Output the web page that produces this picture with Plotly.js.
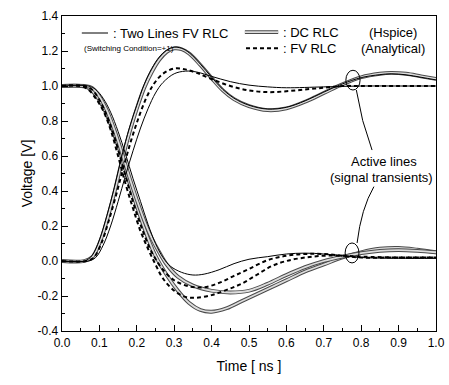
<!DOCTYPE html>
<html><head><meta charset="utf-8">
<script src="https://cdn.plot.ly/plotly-3.0.1.min.js"></script>
<style>html,body{margin:0;padding:0;background:#fff}#chart{width:449px;height:385px}</style>
</head><body><div id="chart"></div>
<script>
// ---- Data (time in ns, voltage in V) ----
// Rising (0 -> 1) transients
var riseGrayT = [0, 0.06, 0.08, 0.10, 0.12, 0.14, 0.16, 0.18, 0.20, 0.22, 0.24, 0.26, 0.28, 0.30, 0.32, 0.34, 0.37, 0.40, 0.43, 0.46, 0.50, 0.55, 0.60, 0.65, 0.70, 0.75, 0.80, 0.85, 0.88, 0.92, 0.96, 1.0];
var riseGrayV = [0, 0, 0.02, 0.10, 0.23, 0.39, 0.57, 0.73, 0.87, 0.99, 1.08, 1.15, 1.195, 1.215, 1.21, 1.185, 1.12, 1.045, 0.975, 0.925, 0.885, 0.862, 0.872, 0.91, 0.96, 1.01, 1.05, 1.07, 1.075, 1.07, 1.055, 1.04];
var riseThinTallV = [0, 0, 0.03, 0.12, 0.26, 0.42, 0.60, 0.76, 0.89, 1.01, 1.10, 1.165, 1.205, 1.222, 1.215, 1.19, 1.125, 1.05, 0.98, 0.93, 0.89, 0.868, 0.878, 0.915, 0.965, 1.012, 1.048, 1.065, 1.07, 1.064, 1.05, 1.035];
var riseDashT = [0, 0.065, 0.085, 0.105, 0.125, 0.145, 0.165, 0.185, 0.205, 0.225, 0.245, 0.27, 0.30, 0.33, 0.36, 0.40, 0.45, 0.50, 0.55, 0.60, 0.65, 0.70, 0.75, 0.80, 0.90, 1.0];
var riseDashV = [0, 0, 0.02, 0.10, 0.23, 0.38, 0.54, 0.69, 0.82, 0.93, 1.01, 1.07, 1.10, 1.095, 1.075, 1.04, 1.0, 0.975, 0.965, 0.97, 0.98, 0.99, 1.0, 1.0, 1.0, 1.0];
var riseThinT = [0, 0.07, 0.09, 0.11, 0.13, 0.15, 0.17, 0.19, 0.21, 0.23, 0.25, 0.27, 0.30, 0.33, 0.36, 0.40, 0.45, 0.50, 0.55, 0.60, 0.70, 0.80, 0.90, 1.0];
var riseThinV = [0, 0, 0.02, 0.09, 0.20, 0.34, 0.49, 0.63, 0.76, 0.87, 0.96, 1.02, 1.07, 1.085, 1.08, 1.055, 1.025, 1.005, 0.995, 0.99, 0.995, 1.0, 1.0, 1.0];

// Falling (1 -> 0) transients
var fallGrayDeepT = [0, 0.05, 0.07, 0.09, 0.11, 0.13, 0.15, 0.17, 0.19, 0.21, 0.23, 0.25, 0.28, 0.31, 0.34, 0.37, 0.40, 0.44, 0.48, 0.52, 0.56, 0.60, 0.65, 0.70, 0.75, 0.80, 0.85, 0.90, 0.95, 1.0];
var fallGrayDeepV = [1, 1, 0.99, 0.95, 0.88, 0.78, 0.66, 0.52, 0.38, 0.25, 0.13, 0.03, -0.08, -0.17, -0.24, -0.28, -0.29, -0.27, -0.23, -0.19, -0.15, -0.11, -0.06, -0.02, 0.02, 0.05, 0.07, 0.075, 0.065, 0.05];
var fallGrayMidT = [0, 0.06, 0.08, 0.10, 0.12, 0.14, 0.16, 0.18, 0.20, 0.22, 0.24, 0.26, 0.28, 0.31, 0.35, 0.40, 0.45, 0.50, 0.55, 0.60, 0.65, 0.70, 0.75, 0.80, 0.85, 0.90, 0.95, 1.0];
var fallGrayMidV = [1, 1, 0.99, 0.94, 0.86, 0.75, 0.62, 0.48, 0.35, 0.23, 0.13, 0.05, -0.02, -0.09, -0.14, -0.17, -0.18, -0.17, -0.13, -0.08, -0.035, 0.0, 0.025, 0.045, 0.058, 0.062, 0.058, 0.05];
var fallDashBT = [0, 0.05, 0.07, 0.09, 0.11, 0.13, 0.15, 0.17, 0.19, 0.21, 0.23, 0.25, 0.27, 0.30, 0.33, 0.36, 0.40, 0.44, 0.48, 0.52, 0.56, 0.60, 0.65, 0.70, 0.75, 0.80, 0.90, 1.0];
var fallDashBV = [1, 1, 0.98, 0.93, 0.86, 0.75, 0.60, 0.44, 0.30, 0.17, 0.07, -0.02, -0.10, -0.17, -0.205, -0.21, -0.195, -0.165, -0.13, -0.08, -0.03, 0.0, 0.02, 0.03, 0.03, 0.025, 0.02, 0.02];
var fallDashAT = [0, 0.06, 0.08, 0.10, 0.12, 0.14, 0.16, 0.18, 0.20, 0.22, 0.24, 0.27, 0.30, 0.34, 0.38, 0.42, 0.46, 0.50, 0.55, 0.60, 0.65, 0.70, 0.75, 0.80, 0.90, 1.0];
var fallDashAV = [1, 1, 0.98, 0.92, 0.83, 0.71, 0.56, 0.41, 0.27, 0.15, 0.05, -0.05, -0.11, -0.145, -0.15, -0.125, -0.085, -0.045, 0.005, 0.03, 0.04, 0.04, 0.03, 0.02, 0.02, 0.02];
var fallThinT = [0, 0.07, 0.09, 0.11, 0.13, 0.15, 0.17, 0.19, 0.21, 0.23, 0.25, 0.27, 0.29, 0.32, 0.35, 0.38, 0.42, 0.46, 0.50, 0.55, 0.60, 0.65, 0.70, 0.75, 0.80, 0.90, 1.0];
var fallThinV = [1, 1, 0.98, 0.93, 0.85, 0.74, 0.61, 0.47, 0.34, 0.21, 0.10, 0.02, -0.03, -0.065, -0.08, -0.075, -0.05, -0.015, 0.01, 0.025, 0.04, 0.045, 0.04, 0.03, 0.02, 0.015, 0.015];

var yTickVals = [-0.4, -0.2, 0.0, 0.2, 0.4, 0.6, 0.8, 1.0, 1.2, 1.4];
var yTickText = ["-0.4", "-0.2", "0.0", "0.2", "0.4", "0.6", "0.8", "1.0", "1.2", "1.4"];
var xTickVals = [0, 0.1, 0.2, 0.3, 0.4, 0.5, 0.6, 0.7, 0.8, 0.9, 1.0];
var xTickText = ["0.0", "0.1", "0.2", "0.3", "0.4", "0.5", "0.6", "0.7", "0.8", "0.9", "1.0"];

var FONT = "Liberation Sans, Arial, sans-serif";
var GRAY_OUT = '#4a4a4a', GRAY_IN = '#dcdcdc';

function grayPair(t, v) {
  return [
    {x: t, y: v, mode: 'lines', line: {color: GRAY_OUT, width: 3.8, shape: 'spline'}, showlegend: false, hoverinfo: 'skip'},
    {x: t, y: v, mode: 'lines', line: {color: GRAY_IN, width: 1.8, shape: 'spline'}, showlegend: false, hoverinfo: 'skip'}
  ];
}
function thin(t, v) {
  return {x: t, y: v, mode: 'lines', line: {color: '#000', width: 1, shape: 'spline'}, showlegend: false, hoverinfo: 'skip'};
}
function dashed(t, v) {
  return {x: t, y: v, mode: 'lines', line: {color: '#000', width: 2, dash: '4px,3px', shape: 'spline'}, showlegend: false, hoverinfo: 'skip'};
}

var traces = [].concat(
  grayPair(riseGrayT, riseGrayV),
  grayPair(fallGrayDeepT, fallGrayDeepV),
  grayPair(fallGrayMidT, fallGrayMidV),
  [thin(riseGrayT, riseThinTallV), thin(riseThinT, riseThinV), thin(fallThinT, fallThinV),
   dashed(riseDashT, riseDashV), dashed(fallDashAT, fallDashAV), dashed(fallDashBT, fallDashBV)]
);

var layout = {
  width: 449, height: 385,
  margin: {l: 62, r: 13, t: 16, b: 54},
  paper_bgcolor: '#fff', plot_bgcolor: '#fff',
  font: {family: FONT, color: '#000', size: 12},
  showlegend: false,
  xaxis: {
    range: [0, 1.0], tickvals: xTickVals, ticktext: xTickText,
    ticks: 'inside', ticklen: 6, tickwidth: 1, tickcolor: '#000',
    minor: {ticks: 'inside', ticklen: 3, dtick: 0.05, tickcolor: '#000'},
    showline: true, linecolor: '#000', linewidth: 1.3, mirror: true,
    showgrid: false, zeroline: false,
    tickfont: {size: 12, family: FONT},
    title: {text: 'Time [ ns ]', font: {size: 14, family: FONT}, standoff: 12}
  },
  yaxis: {
    range: [-0.4, 1.4], tickvals: yTickVals, ticktext: yTickText,
    ticks: 'inside', ticklen: 6, tickwidth: 1, tickcolor: '#000',
    minor: {ticks: 'inside', ticklen: 3, dtick: 0.1, tickcolor: '#000'},
    showline: true, linecolor: '#000', linewidth: 1.3, mirror: true,
    showgrid: false, zeroline: false,
    tickfont: {size: 12, family: FONT},
    title: {text: 'Voltage [V]', font: {size: 14, family: FONT}, standoff: 1}
  },
  shapes: [
    // legend samples
    {type: 'line', xref: 'paper', yref: 'paper', x0: 0.053, x1: 0.123, y0: 0.946, y1: 0.946, line: {color: '#000', width: 1}},
    {type: 'line', xref: 'paper', yref: 'paper', x0: 0.489, x1: 0.578, y0: 0.949, y1: 0.949, line: {color: GRAY_OUT, width: 3.8}},
    {type: 'line', xref: 'paper', yref: 'paper', x0: 0.489, x1: 0.578, y0: 0.949, y1: 0.949, line: {color: GRAY_IN, width: 1.8}},
    {type: 'line', xref: 'paper', yref: 'paper', x0: 0.492, x1: 0.578, y0: 0.898, y1: 0.898, line: {color: '#000', width: 2, dash: '4px,3px'}},
    // ellipses marking active lines
    {type: 'circle', xref: 'x', yref: 'y', x0: 0.759, x1: 0.797, y0: 0.977, y1: 1.09, line: {color: '#000', width: 1}},
    {type: 'circle', xref: 'x', yref: 'y', x0: 0.757, x1: 0.794, y0: -0.011, y1: 0.103, line: {color: '#000', width: 1}},
    // connectors
    {type: 'path', xref: 'x', yref: 'y', path: 'M 0.787 0.977 Q 0.80 0.80 0.829 0.634', line: {color: '#000', width: 1}},
    {type: 'path', xref: 'x', yref: 'y', path: 'M 0.834 0.425 Q 0.80 0.30 0.789 0.103', line: {color: '#000', width: 1}}
  ],
  annotations: [
    {xref: 'paper', yref: 'paper', x: 0.131, y: 0.946, xanchor: 'left', yanchor: 'middle', showarrow: false, text: ': Two Lines FV RLC', font: {size: 13, family: FONT}},
    {xref: 'paper', yref: 'paper', x: 0.053, y: 0.898, xanchor: 'left', yanchor: 'middle', showarrow: false, text: '(Switching Condition=+1)', font: {size: 8, family: FONT}},
    {xref: 'paper', yref: 'paper', x: 0.586, y: 0.949, xanchor: 'left', yanchor: 'middle', showarrow: false, text: ': DC RLC', font: {size: 13, family: FONT}},
    {xref: 'paper', yref: 'paper', x: 0.586, y: 0.898, xanchor: 'left', yanchor: 'middle', showarrow: false, text: ': FV RLC', font: {size: 13, family: FONT}},
    {xref: 'paper', yref: 'paper', x: 0.885, y: 0.949, xanchor: 'center', yanchor: 'middle', showarrow: false, text: '(Hspice)', font: {size: 13, family: FONT}},
    {xref: 'paper', yref: 'paper', x: 0.885, y: 0.898, xanchor: 'center', yanchor: 'middle', showarrow: false, text: '(Analytical)', font: {size: 13, family: FONT}},
    {xref: 'x', yref: 'y', x: 0.86, y: 0.57, xanchor: 'center', yanchor: 'middle', showarrow: false, text: 'Active lines', font: {size: 13, family: FONT}},
    {xref: 'x', yref: 'y', x: 0.853, y: 0.48, xanchor: 'center', yanchor: 'middle', showarrow: false, text: '(signal transients)', font: {size: 13, family: FONT}}
  ]
};

Plotly.newPlot('chart', traces, layout, {staticPlot: true, displayModeBar: false});
</script></body></html>
